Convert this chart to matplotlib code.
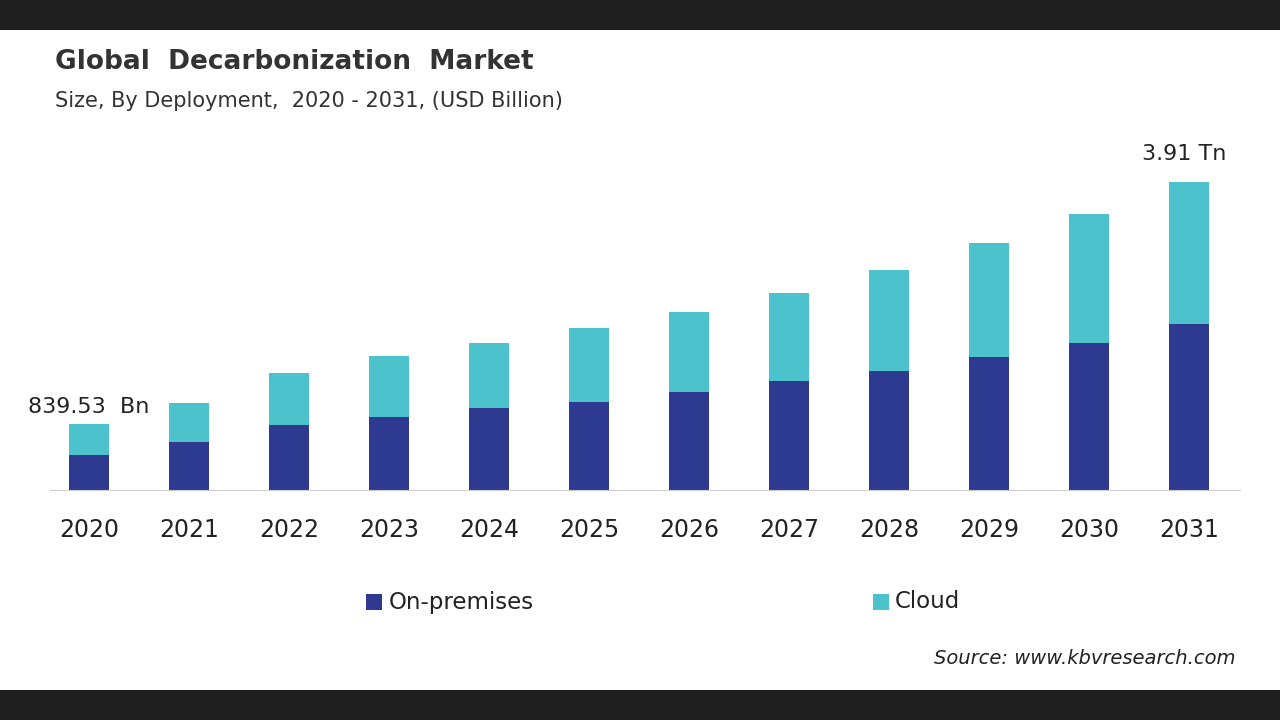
import matplotlib
matplotlib.use('Agg')
import matplotlib.pyplot as plt
from matplotlib.patches import Rectangle

years = ['2020', '2021', '2022', '2023', '2024', '2025', '2026', '2027', '2028', '2029', '2030', '2031']
on_prem = [444, 609, 825, 926, 1041, 1117, 1244, 1383, 1510, 1688, 1865, 2107]
cloud = [395.53, 495, 660, 774, 825, 939, 1015, 1117, 1282, 1447, 1637, 1803]
c_on = '#2e3990'
c_cloud = '#4cc3cc'

fig = plt.figure(figsize=(12.8, 7.2), dpi=100, facecolor='#1e1e1e')
fig.patches.append(Rectangle((0, 30/720), 1, 660/720, transform=fig.transFigure,
                             facecolor='white', zorder=-1))

ax = fig.add_axes([50/1280, 1 - 490/720, 1190/1280, 340/720])
x = range(len(years))
ax.bar(x, on_prem, width=0.4, color=c_on)
ax.bar(x, cloud, width=0.4, bottom=on_prem, color=c_cloud)
ax.set_xlim(-0.39, 11.51)
ax.set_ylim(0, 4316)
for s in ['top', 'right', 'left']:
    ax.spines[s].set_visible(False)
ax.spines['bottom'].set_color('#cccccc')
ax.set_yticks([])
ax.set_xticks(list(x))
ax.set_xticklabels(years, fontsize=17, color='#222222')
ax.tick_params(axis='x', length=0, pad=20)
ax.patch.set_alpha(0)

ax.text(0, on_prem[0] + cloud[0] + 90, '839.53  Bn', ha='center', va='bottom', fontsize=16, color='#222222')
ax.text(10.95, on_prem[-1] + cloud[-1] + 230, '3.91 Tn', ha='center', va='bottom', fontsize=16, color='#222222')

fig.text(55/1280, 1 - 62/720, 'Global  Decarbonization  Market', fontsize=19, fontweight='bold',
         color='#333333', va='center')
fig.text(55/1280, 1 - 101/720, 'Size, By Deployment,  2020 - 2031, (USD Billion)', fontsize=15,
         color='#333333', va='center')

fig.patches.append(Rectangle((366/1280, 1 - 610/720), 16/1280, 16/720, transform=fig.transFigure, facecolor=c_on))
fig.text(389/1280, 1 - 602/720, 'On-premises', fontsize=16.5, color='#222222', va='center')
fig.patches.append(Rectangle((873/1280, 1 - 610/720), 16/1280, 16/720, transform=fig.transFigure, facecolor=c_cloud))
fig.text(895/1280, 1 - 602/720, 'Cloud', fontsize=16.5, color='#222222', va='center')

fig.text(1235/1280, 1 - 659/720, 'Source: www.kbvresearch.com', fontsize=14, style='italic',
         color='#222222', ha='right', va='center')

fig.savefig('out.png', dpi=100, facecolor=fig.get_facecolor())
